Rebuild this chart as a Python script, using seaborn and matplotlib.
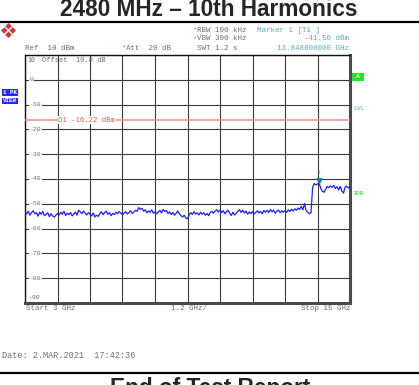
import numpy as np
import pandas as pd
import matplotlib
matplotlib.use("Agg")
import matplotlib.pyplot as plt
import matplotlib.patches as mpatches
from matplotlib.lines import Line2D
from matplotlib.path import Path
from matplotlib.transforms import blended_transform_factory
import seaborn as sns

# ---- analyzer settings -------------------------------------------------
START_GHZ = 3.0
STOP_GHZ = 15.0
GHZ_PER_DIV = 1.2
REF_LEVEL_DBM = 10
DB_PER_DIV = 10
N_DIV = 10

display_line_dbm = -16.22
marker_freq_ghz = 13.848
marker_level_dbm = -41.50

y_tick_values = [10, 0, -10, -20, -30, -40, -50, -60, -70, -80, -90]
y_tick_labels = ["10", "0", "-10", "-20", "-30", "-40", "-50", "-60", "-70", "-80", "-90"]

# ---- measured trace (max-peak, 201 sweep points from 3 to 15 GHz) -------
level_dbm = [
    -53.2, -54.1, -53.0, -54.6, -53.5, -52.8, -54.0, -53.6, -55.0, -53.4,
    -54.2, -53.1, -54.8, -54.3, -53.6, -55.2, -54.0, -54.9, -55.4, -54.6,
    -53.9, -54.5, -53.4, -54.2, -53.0, -54.7, -53.8, -54.4, -53.5, -54.9,
    -54.1, -53.3, -54.6, -52.6, -53.2, -54.0, -52.9, -53.8, -54.5, -53.6,
    -54.2, -54.9, -53.7, -55.3, -54.6, -55.1, -54.0, -53.2, -54.4, -53.5,
    -53.0, -54.2, -53.6, -54.8, -53.9, -54.3, -53.4, -54.0, -53.1, -53.8,
    -54.5, -53.7, -53.2, -54.1, -53.5, -52.8, -53.9, -53.3, -52.6, -53.0,
    -51.5, -52.2, -51.8, -53.0, -52.4, -53.6, -52.9, -53.4, -52.5, -53.8,
    -53.2, -54.0, -53.4, -52.6, -53.7, -52.3, -53.1, -52.7, -53.9, -53.3,
    -54.2, -53.5, -54.6, -53.8, -52.9, -54.0, -54.8, -55.3, -54.6, -55.8,
    -56.0, -54.4, -53.6, -54.3, -53.2, -54.1, -53.7, -54.5, -53.4, -54.2,
    -53.6, -54.6, -53.9, -54.8, -53.5, -53.0, -53.8, -52.9, -52.4, -53.3,
    -52.5, -53.6, -52.8, -54.0, -53.2, -52.6, -53.9, -54.7, -53.4, -54.5,
    -53.8, -53.0, -52.4, -53.5, -52.6, -53.7, -52.9, -54.2, -53.3, -53.9,
    -53.2, -54.1, -53.5, -52.8, -53.7, -53.1, -54.0, -52.7, -53.4, -52.6,
    -53.5, -52.3, -53.2, -52.6, -53.8, -53.0, -52.5, -53.6, -52.8, -53.4,
    -52.7, -53.5, -52.4, -53.1, -52.2, -52.9, -52.0, -52.6, -51.7, -52.3,
    -51.0, -52.4, -49.9, -52.8, -53.4, -54.0, -53.6, -43.4, -41.8, -42.4,
    -42.0, -41.6, -43.8, -45.0, -45.3, -44.2, -43.0, -43.5, -42.8, -43.3,
    -42.6, -43.8, -43.1, -44.4, -43.0, -44.9, -45.7, -43.2, -42.9, -43.6,
    -43.1,
]
freq_ghz = np.linspace(START_GHZ, STOP_GHZ, len(level_dbm))
trace = pd.DataFrame({"freq": freq_ghz, "level": level_dbm})

# ---- figure ------------------------------------------------------------
sns.set_style("white")
plt.rcParams["font.family"] = ["Liberation Mono", "DejaVu Sans Mono"]

W, H = 419, 385
fig = plt.figure(figsize=(W / 100, H / 100), dpi=100)


def fx(px):
    return px / W


def fy(py):
    return 1 - py / H


MONO = "Liberation Mono"
GRAY = "#6e6e6e"
GREEN = "#3ccc3c"
CYAN = "#5aaabb"

ax = fig.add_axes([fx(25), fy(303), 325 / W, 248 / H])

sns.lineplot(data=trace, x="freq", y="level", ax=ax, color="#1f1fff",
             lw=0.9, estimator=None, sort=False, zorder=4)

ax.set_xlim(START_GHZ, STOP_GHZ)
ax.set_ylim(REF_LEVEL_DBM - N_DIV * DB_PER_DIV, REF_LEVEL_DBM)
ax.set_xticks(np.linspace(START_GHZ, STOP_GHZ, N_DIV + 1))
ax.set_yticks(y_tick_values)
ax.set_xticklabels([])
ax.set_yticklabels([])
ax.tick_params(length=0)
ax.set_xlabel("")
ax.set_ylabel("")
ax.grid(True, color="#3a3a3a", lw=0.8)
ax.set_axisbelow(True)
for side in ("left", "top"):
    ax.spines[side].set_color("#111111")
    ax.spines[side].set_linewidth(1.0)
for side in ("right", "bottom"):
    ax.spines[side].set_color("#4a4a4a")
    ax.spines[side].set_linewidth(2.2)

# level labels drawn inside the grid
ytr = blended_transform_factory(ax.transAxes, ax.transData)
for v, lab in zip(y_tick_values, y_tick_labels):
    if v == y_tick_values[0]:
        ax.text(0.009, v - 2.4, lab, transform=ytr, fontsize=4.8, color=GRAY,
                family=MONO, va="center", ha="left")
    elif v == y_tick_values[-1]:
        ax.text(0.012, v + 2.4, lab, transform=ytr, fontsize=4.6, color=GRAY,
                family=MONO, va="center", ha="left",
                bbox=dict(facecolor="white", edgecolor="none", pad=0.3))
    else:
        ax.text(0.015, v, lab, transform=ytr, fontsize=4.6, color=GRAY,
                family=MONO, va="center", ha="left",
                bbox=dict(facecolor="white", edgecolor="none", pad=0.3))
ax.text(0.053, REF_LEVEL_DBM - 2.4, "Offset  10.8 dB", transform=ytr,
        fontsize=5.0, color=GRAY, family=MONO, va="center", ha="left")

# display line D1
ax.axhline(display_line_dbm, color="#f28a8a", lw=1.1, zorder=3)
ax.text(START_GHZ + GHZ_PER_DIV * 1.02, display_line_dbm, "D1 -16.22 dBm",
        fontsize=5.2, color="#e25a5a", family=MONO, va="center", ha="left",
        zorder=5, bbox=dict(facecolor="white", edgecolor="none", pad=0.4))

# marker 1
tri = Path([(-0.55, 1.1), (0.55, 1.1), (0.0, 0.0), (-0.55, 1.1)],
           [Path.MOVETO, Path.LINETO, Path.LINETO, Path.CLOSEPOLY])
ax.plot([marker_freq_ghz], [marker_level_dbm], marker=tri, ms=7,
        color="#0a8a8a", ls="none", zorder=6)
ax.annotate("1", (marker_freq_ghz, marker_level_dbm), xytext=(-0.5, 5.5),
            textcoords="offset points", fontsize=4.5, color="#2aa0a0",
            family=MONO, ha="center", va="bottom")

# ---- page title and rules ---------------------------------------------
fig.text(fx(209), fy(16.5), "2480 MHz – 10th Harmonics", ha="center",
         va="baseline", fontsize=16.3, fontweight="bold",
         family="Liberation Sans")
fig.add_artist(Line2D([0, 1], [fy(22), fy(22)], transform=fig.transFigure,
                      color="black", lw=1.6))
fig.add_artist(Line2D([0, 1], [fy(373), fy(373)], transform=fig.transFigure,
                      color="black", lw=1.6))
fig.text(fx(210), fy(395), "End of Test Report", ha="center",
         va="baseline", fontsize=16.3, fontweight="bold",
         family="Liberation Sans")

# ---- analyzer header ---------------------------------------------------
hdr = dict(fontsize=5.4, family=MONO, va="center")
fig.text(fx(25), fy(48), "Ref  10 dBm", color=GRAY, ha="left", **hdr)
fig.text(fx(121), fy(48), "*", color=GREEN, ha="left", **hdr)
fig.text(fx(126), fy(48), "Att  20 dB", color=GRAY, ha="left", **hdr)
fig.text(fx(192), fy(30), "*", color=GREEN, ha="left", **hdr)
fig.text(fx(197), fy(30), "RBW 100 kHz", color=GRAY, ha="left", **hdr)
fig.text(fx(192), fy(39), "*", color=GREEN, ha="left", **hdr)
fig.text(fx(197), fy(39), "VBW 300 kHz", color=GRAY, ha="left", **hdr)
fig.text(fx(197), fy(48), "SWT 1.2 s", color=GRAY, ha="left", **hdr)
fig.text(fx(257), fy(30), "Marker 1 [T1 ]", color=CYAN, ha="left", **hdr)
fig.text(fx(349), fy(39), "-41.50 dBm", color=CYAN, ha="right", **hdr)
fig.text(fx(349), fy(48), "13.848000000 GHz", color=CYAN, ha="right", **hdr)

# footer of the screen
fig.text(fx(26), fy(309), "Start 3 GHz", color=GRAY, ha="left", **hdr)
fig.text(fx(189), fy(309), "1.2 GHz/", color=GRAY, ha="center", **hdr)
fig.text(fx(350), fy(309), "Stop 15 GHz", color=GRAY, ha="right", **hdr)
fig.text(fx(2), fy(356), "Date: 2.MAR.2021  17:42:36", color="#707070",
         ha="left", va="center", fontsize=6.2, family=MONO)

# trace / status badges
for y0, y1, lab in ((89, 96.5, "1 PK"), (97.5, 104, "VIEW")):
    fig.add_artist(mpatches.Rectangle((fx(2), fy(y1)), 16 / W, (y1 - y0) / H,
                                      transform=fig.transFigure,
                                      facecolor="#2626ff", edgecolor="none"))
    fig.text(fx(10), fy((y0 + y1) / 2), lab, color="white", ha="center",
             va="center", fontsize=4.2, family=MONO, fontweight="bold")
fig.add_artist(mpatches.Rectangle((fx(352), fy(81)), 12 / W, 8 / H,
                                  transform=fig.transFigure,
                                  facecolor="#22e622", edgecolor="none"))
fig.text(fx(358), fy(77), "A", color="white", ha="center", va="center",
         fontsize=4.6, family=MONO, fontweight="bold")
fig.text(fx(353), fy(108), "LVL", color=GREEN, ha="left", va="center",
         fontsize=4.6, family=MONO)
fig.text(fx(353), fy(194), "3DB", color=GREEN, ha="left", va="center",
         fontsize=4.6, family=MONO)

# instrument logo
lax = fig.add_axes([fx(1), fy(38), 15 / W, 15 / H])
lax.set_xlim(0, 1)
lax.set_ylim(0, 1)
lax.axis("off")
lax.add_patch(mpatches.Polygon([(0, 0.5), (0.5, 1), (1, 0.5), (0.5, 0)],
                               closed=True, facecolor="#c8363a",
                               edgecolor="none"))
lax.plot([0.25, 0.75], [0.25, 0.75], color="white", lw=1.0)
lax.plot([0.25, 0.75], [0.75, 0.25], color="white", lw=1.0)

fig.savefig("out.png", dpi=100)
